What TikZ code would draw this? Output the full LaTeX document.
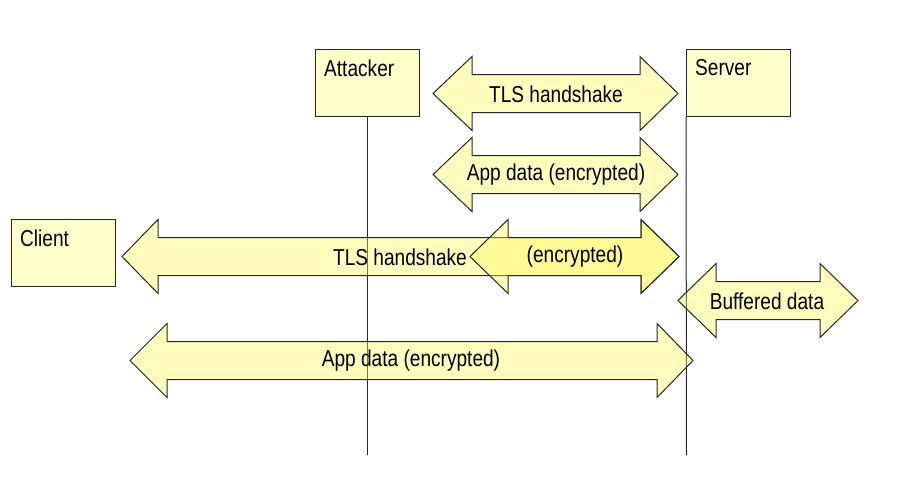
\documentclass[tikz,border=0pt]{standalone}
\usepackage{fontspec}
\setmainfont{Liberation Sans}[FakeStretch=0.83]
\definecolor{boxfill}{HTML}{FFFFCC}
\definecolor{edge}{HTML}{262626}
\definecolor{arrfill}{RGB}{255,248,90}
\newcommand\dblarr[5]{% #1 x1, #2 x2, #3 y, #4 left head length, #5 right head length
  \draw[arrowshape] (#1,#3) -- (#1+#4,#3-37) -- (#1+#4,#3-19) -- (#2-#5,#3-19) -- (#2-#5,#3-37)
    -- (#2,#3) -- (#2-#5,#3+37) -- (#2-#5,#3+19) -- (#1+#4,#3+19) -- (#1+#4,#3+37) -- cycle;}
\begin{document}
\begin{tikzpicture}[x=1pt,y=-1pt,
  box/.style={draw=edge,fill=boxfill,line width=1pt,minimum width=104pt,minimum height=67pt,inner sep=0pt},
  boxtext/.style={anchor=north west,inner sep=0pt,font=\fontsize{23}{26}\selectfont},
  arrowshape/.style={draw=edge,line width=1pt,fill=arrfill,fill opacity=0.4,line join=miter},
  arrtext/.style={inner sep=0pt,font=\fontsize{23}{26}\selectfont},
  life/.style={draw=edge,line width=1pt}]
\useasboundingbox (0,0) rectangle (900,499);
\fill[white] (0,0) rectangle (900,499);
% boxes
\node[box] (att) at (367.5,82.5) {};
\node[box] (srv) at (738.5,82.5) {};
\node[box] (cli) at (63.5,252.5) {};
\node[boxtext] (attl) at ([xshift=9pt,yshift=-11pt]att.north west) {Attacker};
\node[boxtext] (srvl) at ([xshift=9pt,yshift=-11pt]srv.north west) {Server};
\node[boxtext] (clil) at ([xshift=9pt,yshift=-11pt]cli.north west) {Client};
% lifelines
\coordinate (attend) at (367.5,455);
\coordinate (srvend) at (686.5,455);
\draw[life] (att.south) -- (attend);
\draw[life] (srv.south west) -- (srvend);
% arrows
\dblarr{433}{678}{93.5}{39}{38}
\dblarr{433}{678}{174.5}{39}{38}
\dblarr{122}{679}{256.5}{36}{38}
\dblarr{470}{679}{256.5}{38}{38}
\dblarr{678}{858}{300.5}{38}{38}
\dblarr{130}{693}{360.5}{37}{36}
% arrow labels
\node[arrtext] (t1) at (556,94) {TLS handshake};
\node[arrtext] (t2) at (556,175) {App data (encrypted)};
\node[arrtext] (t3) at (400,257) {TLS handshake};
\node[arrtext] (t4) at (575,257) {(encrypted)};
\node[arrtext] (t5) at (767,301) {Buffered data};
\node[arrtext] (t6) at (411,361) {App data (encrypted)};
\end{tikzpicture}
\end{document}
